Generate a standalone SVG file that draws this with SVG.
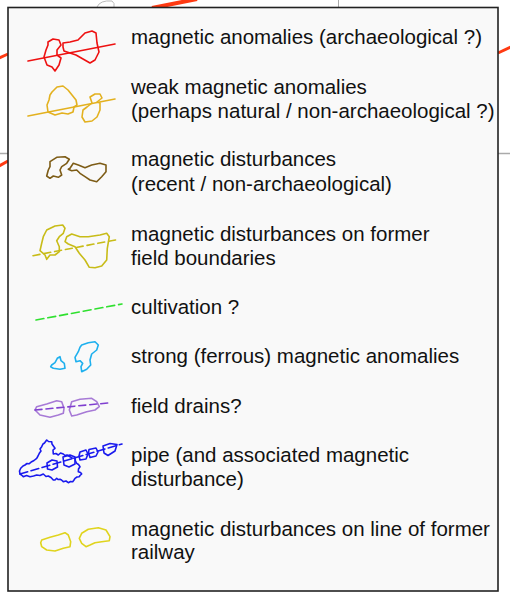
<svg xmlns="http://www.w3.org/2000/svg" width="510" height="596" viewBox="0 0 510 596">
<style>
  .lbl { font-family: "Liberation Sans", Arial, sans-serif; font-size: 20.5px; fill: #111; }
  .sym { fill: none; stroke-width: 1.6; stroke-linejoin: round; stroke-linecap: round; }
  .bg { fill: none; stroke-linecap: butt; }
</style>
<rect x="0" y="0" width="510" height="596" fill="#ffffff"/>
<g id="background-map">
  <line class="bg" x1="152" y1="8" x2="197" y2="-1" stroke="#ff3a12" stroke-width="4"/>
  <line class="bg" x1="498" y1="53" x2="511" y2="47" stroke="#ff3a12" stroke-width="3"/>
  <line class="bg" x1="-1" y1="58" x2="8" y2="54" stroke="#ff3a12" stroke-width="3"/>
  <line class="bg" x1="-1" y1="166" x2="8" y2="161" stroke="#ff3a12" stroke-width="3"/>
  <line class="bg" x1="0" y1="153.5" x2="8" y2="153.5" stroke="#aaaaaa" stroke-width="1.5"/>
  <line class="bg" x1="498" y1="153.5" x2="510" y2="153.5" stroke="#aaaaaa" stroke-width="1.5"/>
  <line class="bg" x1="338.5" y1="0" x2="338.5" y2="8" stroke="#aaaaaa" stroke-width="1"/>
  <path class="bg" d="M97,7 Q100,0 112,1 Q115,3 114,7" stroke="#bbbbbb" stroke-width="1"/>
</g>
<rect id="legend-box" x="8" y="7.5" width="490" height="583.5" fill="#f9f9f9" stroke="#222" stroke-width="1.6"/>

<g id="item-archaeological">
  <g class="sym" stroke="#ee1111">
    <line x1="28" y1="61" x2="115" y2="44"/>
    <path d="M48,42 L53,39 L59,40 L61,45 L57,50 L57,55 L61,58 L59,65 L55,71 L52,67 L47,65 L44,57 L46,50 L48,45 Z"/>
    <path d="M63,43 L70,42 L78,40 L85,33 L92,31 L96,33 L97,43 L99,52 L95,60 L90,63 L83,59 L76,55 L70,53 L64,51 L63,47 Z"/>
  </g>
  <text class="lbl" x="131" y="44">magnetic anomalies (archaeological ?)</text>
</g>

<g id="item-weak">
  <g class="sym" stroke="#e3b11f">
    <line x1="28" y1="116" x2="115" y2="99"/>
    <path d="M52,92 L57,87 L63,86 L68,90 L72,95 L76,100 L77,105 L74,107 L73,112 L68,114 L62,113 L55,115 L48,112 L47,105 L49,100 L50,95 Z"/>
    <path d="M90,97 L95,94 L100,94 L102,98 L97,102 L100,103 L100,110 L97,117 L92,121 L85,122 L82,117 L83,110 L87,107 L92,103 Z"/>
  </g>
  <text class="lbl" x="131" y="94">weak magnetic anomalies</text>
  <text class="lbl" x="131" y="118">(perhaps natural / non-archaeological ?)</text>
</g>

<g id="item-disturbances">
  <g class="sym" stroke="#7d5c16">
    <path d="M50,161.7 L56.7,157.3 L65,156.7 L69.3,159.3 L66.7,163.3 L61.7,166.7 L60,170 L61.7,175 L58.3,177.3 L53.3,176 L50,178.3 L46.7,176 L48.3,170 L50,166.7 Z"/>
    <path d="M70,168.3 L73.3,163.3 L78.3,165 L85,167.7 L91.7,165 L100,163.3 L106,165 L106,171.7 L101.7,176.7 L96.7,181.7 L90,180 L85,176.7 L80,173.3 L76.7,170 L71.7,170.7 L68.3,169.3 Z"/>
  </g>
  <text class="lbl" x="131" y="166">magnetic disturbances</text>
  <text class="lbl" x="131" y="191">(recent / non-archaeological)</text>
</g>

<g id="item-field-boundaries">
  <g class="sym" stroke="#c8bc18">
    <line x1="33" y1="255.7" x2="119" y2="239.3" stroke-dasharray="7 4"/>
    <path d="M46.7,230 L55,226 L62.7,225 L65,228.3 L63.3,233.3 L59.3,236.7 L56.7,240.7 L59.3,246.7 L59.3,251.7 L55,255 L50,255 L46.7,259.3 L45,255 L40,250.7 L41.7,243.3 L43.3,236.7 Z"/>
    <path d="M66.7,236.7 L71.7,234 L80,236.7 L88.3,236.7 L100,235 L106.7,233.3 L109.3,236.7 L107.3,248.3 L106.7,260 L101.7,266 L95,267.7 L89.3,267.3 L85,260 L79.3,253.3 L75,246.7 L68.3,244 L65,241.7 Z"/>
  </g>
  <text class="lbl" x="131" y="241">magnetic disturbances on former</text>
  <text class="lbl" x="131" y="265">field boundaries</text>
</g>

<g id="item-cultivation">
  <line class="sym" x1="36" y1="320" x2="122" y2="304" stroke="#2fe02f" stroke-dasharray="8 4"/>
  <text class="lbl" x="131" y="314">cultivation ?</text>
</g>

<g id="item-ferrous">
  <g class="sym" stroke="#1eb0ee">
    <path d="M51.7,365 L55,362.7 L57.3,358.3 L60,356.7 L61,360.7 L64.3,363.3 L65,368.3 L60,369.3 L53.3,368.3 L50.7,366.7 Z"/>
    <path d="M81.7,345 L88.3,342.7 L95,341.7 L98.3,345 L96.7,350 L91.7,354 L90,360 L90.7,365 L86.7,369.3 L81.7,371.7 L81,366.7 L82.7,363.3 L80,360.7 L76,361.7 L75,357.3 L78.3,351.7 L80,347.3 Z"/>
  </g>
  <text class="lbl" x="131" y="363">strong (ferrous) magnetic anomalies</text>
</g>

<g id="item-field-drains">
  <g class="sym" stroke="#a77ad6">
    <path d="M36.7,406.7 L46.7,404 L56.7,400.7 L61.7,401.7 L64,408.3 L63.3,413.3 L58.3,415 L50,417.3 L40,415 L35,410 Z"/>
    <path d="M71.7,401.7 L80,399.3 L91.7,398.3 L96.7,401.7 L99.3,406.7 L95,410 L86.7,411.7 L76.7,415 L71.7,416 L69.3,410 Z"/>
  </g>
  <line class="sym" x1="35" y1="410" x2="111" y2="402.7" stroke="#8040d0" stroke-dasharray="7 4"/>
  <text class="lbl" x="131" y="413">field drains?</text>
</g>

<g id="item-pipe">
  <g class="sym" stroke="#1a1aee" stroke-width="1.2">
    <path d="M20.7,468.3 L23,466 L25,465 L27,463.5 L29,463.8 L31.7,461.7 L34,460.5 L36.7,458.3 L38,456 L39.3,453.3 L41,451 L40,449 L41.7,446.7 L43,444 L44.5,443 L46.7,440 L48.5,441.5 L51.7,441.7 L52,444 L55,448.3 L53,450 L53.3,454 L56,453.5 L58.3,455 L60.5,453 L63.3,454 L65,455.5 L67,455 L70,456.7 L72,458 L75,458.3 L75.5,461 L76.7,463.3 L78.5,464.5 L80,466.7 L78.5,469 L78.3,471.7 L80.5,472.5 L81.7,474 L80,475.5 L79.3,476.7 L77,477 L75,478.3 L74,480 L72.7,481.7 L70.5,481.5 L68.3,482.7 L66,481 L63.3,481.7 L61.5,480 L60,479.3 L58,479.5 L56.7,478.3 L55,480 L53.3,480 L51,477.5 L48.3,476 L46,476.5 L43.3,474 L40,475.5 L36.7,475 L33.5,476 L30,476.7 L26.5,475.5 L23.3,476.7 L21.5,475 L20,474 L19.5,471 Z"/>
    <path d="M47,463 L52,460 L57,461 L57.5,467 L52,470 L47.5,469 Z"/>
    <path d="M63,457 L70,455 L75,457 L75,464 L69,467 L64,465 Z"/>
    <path d="M80,452 L86,450 L88,454 L86,459 L80,460 L79,456 Z"/>
    <path d="M89,449.5 L96,448 L98,452 L96,456 L90,457.5 L88.5,453 Z"/>
    <path d="M103,446 L110,443.5 L117,444.5 L115,451 L108,455.5 L104,453 Z"/>
  </g>
  <line class="sym" x1="20" y1="474" x2="122" y2="444" stroke="#1a1aee" stroke-width="2.8" stroke-dasharray="8 3.5" stroke-linecap="butt"/>
  <text class="lbl" x="131" y="462">pipe (and associated magnetic</text>
  <text class="lbl" x="131" y="486">disturbance)</text>
</g>

<g id="item-railway">
  <g class="sym" stroke="#e0d41e">
    <path d="M41.7,540 L50,537.3 L58.3,535 L65,532.7 L68.3,535 L70.7,541.7 L70,546.7 L63.3,548.3 L55,551 L46.7,550 L41.7,546.7 L40.7,542.7 Z"/>
    <path d="M81.7,533.3 L88.3,529.3 L98.3,527.7 L106,530 L110,536.7 L109.3,540.7 L101.7,541.7 L95,542.7 L90,545 L86,546.7 L81.7,543.3 L79.3,538.3 Z"/>
  </g>
  <text class="lbl" x="131" y="536">magnetic disturbances on line of former</text>
  <text class="lbl" x="131" y="559">railway</text>
</g>
</svg>
